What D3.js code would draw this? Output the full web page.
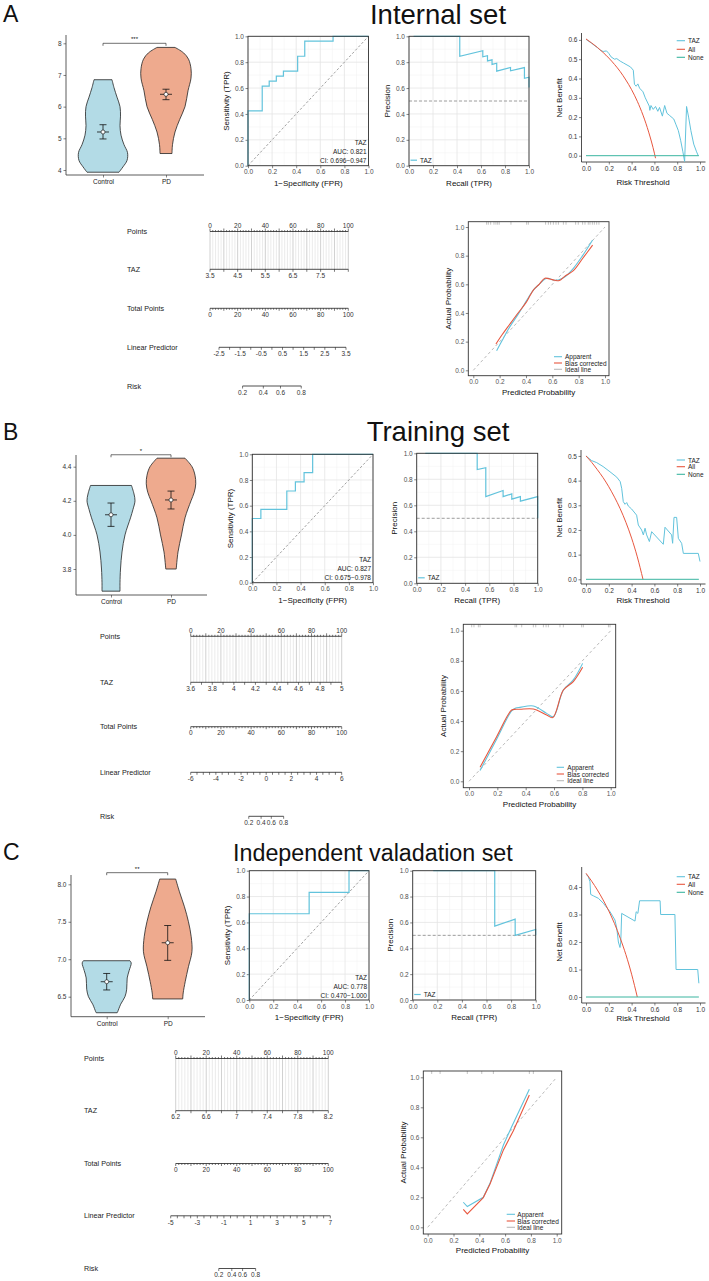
<!DOCTYPE html>
<html><head><meta charset="utf-8">
<script src="https://cdn.jsdelivr.net/npm/d3@7"></script>
<style>body{margin:0;background:#fff}</style>
</head><body><svg id="c" width="709" height="1281"></svg>
<script>
// ================= DATA =================
const groups = ["Control", "PD"];
// violin outlines: [TAZ value, relative half width]
const vioA_Control = [[3.93,0.64],[4.1,0.8],[4.3,0.96],[4.55,0.98],[4.8,0.84],[5.1,0.72],[5.4,0.68],[5.7,0.7],[6.0,0.68],[6.3,0.56],[6.6,0.44],[6.85,0.36]];
const vioA_PD = [[4.52,0.24],[4.8,0.26],[5.2,0.36],[5.6,0.55],[6.0,0.76],[6.5,0.88],[6.9,1.0],[7.2,1.0],[7.5,0.9],[7.7,0.7],[7.87,0.36]];
const vioB_Control = [[3.67,0.36],[3.72,0.36],[3.8,0.38],[3.9,0.44],[4.0,0.56],[4.1,0.78],[4.15,0.88],[4.2,0.96],[4.24,0.92],[4.29,0.82]];
const vioB_PD = [[3.8,0.21],[3.9,0.28],[4.0,0.42],[4.1,0.56],[4.2,0.8],[4.25,0.93],[4.3,0.99],[4.35,0.96],[4.4,0.84],[4.45,0.56]];
const vioC_Control = [[6.286,0.42],[6.3,0.44],[6.4,0.56],[6.5,0.73],[6.6,0.8],[6.75,0.82],[6.85,0.9],[6.95,0.98],[6.98,0.93]];
const vioC_PD = [[6.47,0.6],[6.55,0.62],[6.7,0.7],[6.9,0.83],[7.1,0.97],[7.3,0.94],[7.5,0.83],[7.7,0.67],[7.9,0.47],[8.07,0.32]];
// mean and error bars
const meanA = [5.20, 6.39], lowA = [4.98, 6.22], highA = [5.43, 6.55];
const meanB = [4.118, 4.205], lowB = [4.05, 4.152], highB = [4.187, 4.257];
const meanC = [6.70, 7.22], lowC = [6.59, 6.985], highC = [6.81, 7.45];
const sigA = "***", sigB = "*", sigC = "**";
const sigLevelA = 8.0, sigLevelB = 4.47, sigLevelC = 8.155;
const vioTicksA = [4,5,6,7,8], vioTicksB = [3.8,4.0,4.2,4.4], vioTicksC = [6.5,7.0,7.5,8.0];

// ROC (step corners)
const rocA_fpr = [0,0.118,0.176,0.235,0.294,0.412,0.471,0.706,1];
const rocA_tpr = [0,0.423,0.615,0.654,0.692,0.731,0.846,0.962,1];
const rocB_fpr = [0,0.071,0.286,0.357,0.429,0.5,1];
const rocB_tpr = [0,0.5,0.571,0.714,0.786,0.857,1];
const rocC_fpr = [0,0.5,0.833,1];
const rocC_tpr = [0,0.667,0.833,1];
const rocTextA = ["TAZ","AUC: 0.821","CI: 0.696\u22120.947"];
const rocTextB = ["TAZ","AUC: 0.827","CI: 0.675\u22120.978"];
const rocTextC = ["TAZ","AUC: 0.778","CI: 0.470\u22121.000"];

// PR curves
const prA_recall = [0.038,0.423,0.423,0.615,0.615,0.654,0.654,0.692,0.692,0.731,0.731,0.846,0.846,0.962,0.962,1,1];
const prA_prec   = [1,1,0.846,0.889,0.842,0.85,0.81,0.818,0.783,0.792,0.731,0.759,0.733,0.758,0.676,0.684,0.605];
const prB_recall = [0.071,0.5,0.5,0.571,0.571,0.714,0.714,0.786,0.786,0.857,0.857,1,1];
const prB_prec   = [1,1,0.875,0.889,0.667,0.714,0.667,0.688,0.647,0.667,0.632,0.667,0.5];
const prC_recall = [0.167,0.667,0.667,0.833,0.833,1,1];
const prC_prec   = [1,1,0.571,0.625,0.5,0.545,0.5];

// Decision curves
const dcaA_t   = [0,0.05,0.1,0.125,0.15,0.18,0.2,0.22,0.25,0.27,0.3,0.33,0.36,0.39,0.415,0.425,0.44,0.455,0.47,0.5,0.52,0.555,0.56,0.57,0.59,0.61,0.63,0.645,0.67,0.69,0.71,0.73,0.77,0.79,0.81,0.83,0.85,0.865,0.882,0.9,0.92,0.945,0.97,0.985];
const dcaA_taz = [0.603,0.582,0.56,0.547,0.54,0.543,0.53,0.512,0.5,0.503,0.49,0.48,0.47,0.46,0.443,0.37,0.36,0.372,0.35,0.331,0.3,0.257,0.235,0.26,0.24,0.255,0.23,0.25,0.205,0.26,0.22,0.21,0.19,0.16,0.13,0.08,0.02,-0.03,0.255,0.2,0.13,0.06,0.02,0.0];
const dcaA_allT = [0,0.05,0.1,0.15,0.2,0.25,0.3,0.35,0.4,0.45,0.5,0.55,0.6,0.61];
const dcaA_all  = [0.605,0.584,0.561,0.535,0.506,0.473,0.436,0.392,0.342,0.282,0.21,0.122,0.013,-0.013];
const dcaB_t   = [0,0.05,0.094,0.15,0.21,0.27,0.3,0.313,0.327,0.342,0.357,0.371,0.4,0.444,0.459,0.488,0.503,0.518,0.532,0.556,0.576,0.678,0.693,0.751,0.76,0.772,0.795,0.81,0.839,0.854,0.985,1.0];
const dcaB_taz = [0.5,0.481,0.473,0.457,0.436,0.414,0.396,0.369,0.315,0.304,0.311,0.297,0.285,0.26,0.22,0.2,0.18,0.207,0.18,0.153,0.193,0.142,0.211,0.18,0.146,0.251,0.251,0.166,0.146,0.105,0.105,0.072];
const dcaB_allT = [0,0.05,0.1,0.15,0.2,0.25,0.3,0.35,0.4,0.45,0.5];
const dcaB_all  = [0.5,0.474,0.444,0.412,0.375,0.333,0.286,0.231,0.167,0.091,0];
const dcaC_t   = [0,0.02,0.035,0.041,0.064,0.108,0.152,0.211,0.254,0.27,0.284,0.298,0.305,0.313,0.43,0.44,0.455,0.47,0.65,0.655,0.78,0.79,0.98,0.99];
const dcaC_taz = [0.446,0.438,0.419,0.373,0.368,0.359,0.341,0.31,0.28,0.25,0.2,0.18,0.2,0.304,0.276,0.31,0.304,0.35,0.35,0.3,0.3,0.1,0.1,0.05];
const dcaC_allT = [0,0.05,0.1,0.15,0.2,0.25,0.3,0.35,0.4,0.45];
const dcaC_all  = [0.45,0.421,0.389,0.353,0.313,0.267,0.214,0.154,0.083,0];
const dcaNoneT = [0, 0.99], dcaNone = [0, 0];
const dcaLegend = ["TAZ","All","None"];

// Calibration curves
const calA_appX = [0.177,0.22,0.278,0.34,0.392,0.42,0.456,0.5,0.544,0.57,0.607,0.645,0.696,0.76,0.83,0.906];
const calA_appY = [0.137,0.21,0.305,0.39,0.467,0.51,0.56,0.6,0.637,0.642,0.63,0.63,0.653,0.712,0.8,0.909];
const calA_bcX  = [0.172,0.22,0.278,0.34,0.4,0.43,0.456,0.5,0.544,0.582,0.62,0.653,0.7,0.76,0.83,0.906];
const calA_bcY  = [0.184,0.25,0.323,0.4,0.472,0.52,0.56,0.6,0.642,0.637,0.628,0.626,0.66,0.695,0.78,0.874];
const calA_rug  = [0.101,0.114,0.132,0.157,0.172,0.185,0.197,0.286,0.405,0.418,0.549,0.57,0.587,0.608,0.628,0.646,0.684,0.704,0.777,0.797,0.83,0.848,0.873,0.886,0.904,0.919,0.937,0.954];
const calB_appX = [0.078,0.195,0.301,0.33,0.36,0.454,0.548,0.595,0.666,0.736,0.802];
const calB_appY = [0.071,0.279,0.467,0.487,0.491,0.5,0.451,0.429,0.606,0.673,0.783];
const calB_bcX  = [0.078,0.195,0.301,0.33,0.36,0.454,0.548,0.591,0.666,0.736,0.802];
const calB_bcY  = [0.093,0.296,0.473,0.478,0.478,0.48,0.44,0.423,0.606,0.662,0.757];
const calB_rug  = [0.019,0.035,0.066,0.078,0.325,0.336,0.372,0.454,0.471,0.525,0.544,0.56,0.642,0.666,0.795,0.807,0.984,0.995];
const calC_appX = [0.276,0.307,0.431,0.483,0.587,0.651,0.788];
const calC_appY = [0.167,0.138,0.2,0.293,0.549,0.671,0.92];
const calC_bcX  = [0.276,0.307,0.431,0.483,0.587,0.664,0.788];
const calC_bcY  = [0.12,0.089,0.198,0.289,0.516,0.644,0.882];
const calC_rug  = [0.031,0.096,0.307,0.419,0.509,0.788,0.819];
const calLegend = ["Apparent","Bias corrected","Ideal line"];

// Nomogram tick labels
const nomoRows = ["Points","TAZ","Total Points","Linear Predictor","Risk"];
const nomoPointLabels = [0,20,40,60,80,100];
const nomoRiskLabels = [0.2,0.4,0.6,0.8];
const nomoA_taz = [3.5,4.5,5.5,6.5,7.5];
const nomoA_lp  = [-2.5,-1.5,-0.5,0.5,1.5,2.5,3.5];
const nomoB_taz = [3.6,3.8,4,4.2,4.4,4.6,4.8,5];
const nomoB_lp  = [-6,-4,-2,0,2,4,6];
const nomoC_taz = [6.2,6.6,7,7.4,7.8,8.2];
const nomoC_lp  = [-5,-3,-1,1,3,5,7];

const titles = ["Internal set","Training set","Independent valadation set"];
const letters = ["A","B","C"];

// ================= STYLE =================
const FONT = "'Liberation Sans', Arial, Helvetica, sans-serif";
const COL_TAZ = "#62c3dc", COL_ALL = "#e8573f", COL_NONE = "#3ab5a0";
const FILLS = ["#b3dbe6", "#eeaa8e"];
const svg = d3.select("#c").attr("font-family", FONT);
const fmt1 = d3.format(".1f");

function txt(g, x, y, s, o = {}) {
  const t = g.append("text").attr("x", x).attr("y", y).text(s)
    .attr("font-size", o.size || 7).attr("fill", o.fill || "#111")
    .attr("text-anchor", o.anchor || "start")
    .attr("dominant-baseline", o.base || "central");
  if (o.rot) t.attr("transform", `rotate(-90,${x},${y})`);
  return t;
}
function hline(g, x1, x2, y, col = "#222", w = 0.8) {
  return g.append("line").attr("x1", x1).attr("x2", x2).attr("y1", y).attr("y2", y).attr("stroke", col).attr("stroke-width", w);
}
function vline(g, x, y1, y2, col = "#222", w = 0.8) {
  return g.append("line").attr("x1", x).attr("x2", x).attr("y1", y1).attr("y2", y2).attr("stroke", col).attr("stroke-width", w);
}
function styleAxis(sel, size = 6.5, col = "#4d4d4d") {
  sel.attr("font-size", size).attr("font-family", FONT);
  sel.select(".domain").remove();
  sel.selectAll(".tick line").attr("stroke", "#333").attr("stroke-width", 0.6);
  sel.selectAll(".tick text").attr("fill", col);
}
const zip = (a, b) => a.map((d, i) => [d, b[i]]);

// ================= PANELS =================
function violinPanel(c, data, mean, low, high, ticks, sig, sigLevel) {
  const g = svg.append("g");
  const y = d3.scaleLinear().domain(c.yDomain).range(c.yRange);
  const x = d3.scalePoint().domain(groups).range(c.centers);
  const maxHW = 25;
  groups.forEach((grp, i) => {
    const area = d3.area().curve(d3.curveCatmullRom)
      .y(d => y(d[0])).x0(d => x(grp) - d[1] * maxHW).x1(d => x(grp) + d[1] * maxHW);
    g.append("path").attr("d", area(data[i])).attr("fill", FILLS[i]).attr("stroke", "#222").attr("stroke-width", 0.8);
    const cx = x(grp);
    vline(g, cx, y(low[i]), y(high[i]), "#111", 0.8);
    hline(g, cx - 3.5, cx + 3.5, y(low[i]), "#111", 0.8);
    hline(g, cx - 3.5, cx + 3.5, y(high[i]), "#111", 0.8);
    hline(g, cx - 6, cx + 6, y(mean[i]), "#111", 0.8);
    g.append("circle").attr("cx", cx).attr("cy", y(mean[i])).attr("r", 2).attr("fill", "#fff").attr("stroke", "#111").attr("stroke-width", 0.6);
  });
  const sy = y(sigLevel);
  g.append("path").attr("d", `M${x("Control")},${sy + 2.5}V${sy}H${x("PD")}V${sy + 2.5}`).attr("fill", "none").attr("stroke", "#333").attr("stroke-width", 0.7);
  txt(g, (x("Control") + x("PD")) / 2, sy - 2, sig, { size: 6, anchor: "middle", base: "auto" });
  const ya = g.append("g").attr("transform", `translate(${c.xLeft},0)`)
    .call(d3.axisLeft(y).tickValues(ticks).tickSize(2.5).tickPadding(2).tickFormat(c.fmt));
  styleAxis(ya, 6.5, "#333");
  vline(g, c.xLeft, c.yTop, c.xAxisY, "#333", 0.8);
  const xa = g.append("g").attr("transform", `translate(0,${c.xAxisY})`)
    .call(d3.axisBottom(x).tickSize(2.5).tickPadding(2));
  styleAxis(xa, 6.5, "#222");
  hline(g, c.xLeft, c.xRight, c.xAxisY, "#333", 0.8);
}

function framePanel(c) {
  const g = svg.append("g");
  const xs = d3.scaleLinear().domain([0, 1]).range([c.x0, c.x1]);
  const ys = d3.scaleLinear().domain([0, 1]).range([c.yBot, c.yTop]);
  const minor = [0.1, 0.3, 0.5, 0.7, 0.9], major = [0, 0.2, 0.4, 0.6, 0.8, 1];
  minor.forEach(v => { vline(g, xs(v), c.yTop, c.yBot, "#f0f0f0", 0.5); hline(g, c.x0, c.x1, ys(v), "#f0f0f0", 0.5); });
  major.forEach(v => { vline(g, xs(v), c.yTop, c.yBot, "#e4e4e4", 0.8); hline(g, c.x0, c.x1, ys(v), "#e4e4e4", 0.8); });
  const xa = g.append("g").attr("transform", `translate(0,${c.yBot})`)
    .call(d3.axisBottom(xs).tickValues(major).tickFormat(fmt1).tickSize(2.5).tickPadding(1.5));
  styleAxis(xa);
  const ya = g.append("g").attr("transform", `translate(${c.x0},0)`)
    .call(d3.axisLeft(ys).tickValues(major).tickFormat(fmt1).tickSize(2.5).tickPadding(1.5));
  styleAxis(ya);
  txt(g, (c.x0 + c.x1) / 2, c.yBot + 17.5, c.xlab, { size: 8, anchor: "middle" });
  txt(g, c.x0 - 22, (c.yTop + c.yBot) / 2, c.ylab, { size: 8, anchor: "middle", rot: true });
  return { g, xs, ys, border: () => g.append("rect").attr("x", c.x0).attr("y", c.yTop).attr("width", c.x1 - c.x0).attr("height", c.yBot - c.yTop).attr("fill", "none").attr("stroke", "#333").attr("stroke-width", 0.9) };
}

function rocPanel(c, fpr, tpr, lines) {
  const p = framePanel(Object.assign({ xlab: "1\u2212Specificity (FPR)", ylab: "Sensitivity (TPR)" }, c));
  p.g.append("line").attr("x1", p.xs(0)).attr("y1", p.ys(0)).attr("x2", p.xs(1)).attr("y2", p.ys(1))
    .attr("stroke", "#777").attr("stroke-width", 0.7).attr("stroke-dasharray", "2.5,2");
  p.g.append("path").attr("d", d3.line().curve(d3.curveStepBefore).x(d => p.xs(d[0])).y(d => p.ys(d[1]))(zip(fpr, tpr)))
    .attr("fill", "none").attr("stroke", COL_TAZ).attr("stroke-width", 1.2);
  p.border();
  lines.forEach((s, i) => txt(p.g, c.x1 - 2, c.yBot - 23 + i * 9, s, { size: 6.5, anchor: "end", fill: "#222" }));
}

function prPanel(c, rec, prec) {
  const p = framePanel(Object.assign({ xlab: "Recall (TPR)", ylab: "Precision" }, c));
  hline(p.g, c.x0, c.x1, p.ys(0.5), "#888", 0.8).attr("stroke-dasharray", "3,2");
  p.g.append("path").attr("d", d3.line().x(d => p.xs(d[0])).y(d => p.ys(d[1]))(zip(rec, prec)))
    .attr("fill", "none").attr("stroke", COL_TAZ).attr("stroke-width", 1.2);
  p.border();
  const ly = c.yBot - 5.5;
  hline(p.g, c.x0 + 1.5, c.x0 + 8, ly, COL_TAZ, 1.2);
  txt(p.g, c.x0 + 11, ly, "TAZ", { size: 6.5, fill: "#222" });
}

function dcaPanel(c, tT, tV, aT, aV) {
  const g = svg.append("g");
  const xs = d3.scaleLinear().domain([0, 1]).range([c.x0, c.x1]);
  const ys = d3.scaleLinear().domain([0, 1]).range([c.y0, c.y0 - c.yPer]);
  vline(g, c.axisX, c.yTopLine, c.axisY, "#222", 0.8);
  hline(g, c.axisX, c.x1 + 5.5, c.axisY, "#222", 0.8);
  const ya = g.append("g").attr("transform", `translate(${c.axisX},0)`)
    .call(d3.axisLeft(ys).tickValues(c.yTicks).tickFormat(fmt1).tickSize(2.5).tickPadding(1.5));
  styleAxis(ya, 6.5, "#333");
  const xa = g.append("g").attr("transform", `translate(0,${c.axisY})`)
    .call(d3.axisBottom(xs).tickValues([0, 0.2, 0.4, 0.6, 0.8, 1]).tickFormat(fmt1).tickSize(2.5).tickPadding(1.5));
  styleAxis(xa, 6.5, "#333");
  const line = d3.line().x(d => xs(d[0])).y(d => ys(d[1]));
  g.append("path").attr("d", line(zip(tT, tV))).attr("fill", "none").attr("stroke", COL_TAZ).attr("stroke-width", 1);
  g.append("path").attr("d", d3.line().curve(d3.curveMonotoneX).x(d => xs(d[0])).y(d => ys(d[1]))(zip(aT, aV))).attr("fill", "none").attr("stroke", COL_ALL).attr("stroke-width", 1);
  g.append("path").attr("d", line(zip(dcaNoneT, dcaNone))).attr("fill", "none").attr("stroke", COL_NONE).attr("stroke-width", 1);
  txt(g, (c.x0 + c.x1) / 2, c.xlabY, "Risk Threshold", { size: 8, anchor: "middle" });
  txt(g, c.ylabX, c.y0 - c.yPer * c.yTicks[c.yTicks.length - 1] / 2, "Net Benefit", { size: 8, anchor: "middle", rot: true });
  const cols = [COL_TAZ, COL_ALL, COL_NONE];
  dcaLegend.forEach((s, i) => {
    hline(g, 676.7, 685, c.legY[i], cols[i], 1.1);
    txt(g, 688, c.legY[i], s, { size: 6.5, fill: "#222" });
  });
}

function calPanel(c, ax, ay, bx, by, rug) {
  const g = svg.append("g");
  const xs = d3.scaleLinear().domain([0, 1]).range([c.x0, c.x1]);
  const ys = d3.scaleLinear().domain([0, 1]).range([c.y0, c.y1]);
  const [bx0, by0, bx1, by1] = c.box;
  const ticks = [0, 0.2, 0.4, 0.6, 0.8, 1];
  const xa = g.append("g").attr("transform", `translate(0,${by1})`)
    .call(d3.axisBottom(xs).tickValues(ticks).tickFormat(fmt1).tickSize(2.5).tickPadding(1.5));
  styleAxis(xa, 6.5, "#555");
  const ya = g.append("g").attr("transform", `translate(${bx0},0)`)
    .call(d3.axisLeft(ys).tickValues(ticks).tickFormat(fmt1).tickSize(2.5).tickPadding(1.5));
  styleAxis(ya, 6.5, "#555");
  g.append("line").attr("x1", xs(0)).attr("y1", ys(0)).attr("x2", xs(1)).attr("y2", ys(1))
    .attr("stroke", "#aaa").attr("stroke-width", 0.8).attr("stroke-dasharray", "3,2.5");
  rug.forEach(v => vline(g, xs(v), by0, by0 + 3, "#888", 0.5));
  const line = d3.line().curve(c.curve).x(d => xs(d[0])).y(d => ys(d[1]));
  g.append("path").attr("d", line(zip(ax, ay))).attr("fill", "none").attr("stroke", COL_TAZ).attr("stroke-width", 1.1);
  g.append("path").attr("d", line(zip(bx, by))).attr("fill", "none").attr("stroke", COL_ALL).attr("stroke-width", 1.1);
  g.append("rect").attr("x", bx0).attr("y", by0).attr("width", bx1 - bx0).attr("height", by1 - by0)
    .attr("fill", "none").attr("stroke", "#333").attr("stroke-width", 0.9);
  const cols = [COL_TAZ, COL_ALL, "#bbb"];
  calLegend.forEach((s, i) => {
    hline(g, c.legX[0], c.legX[1], c.legY[i], cols[i], 1.1);
    txt(g, c.legX[2], c.legY[i], s, { size: 6.5, fill: "#222" });
  });
  txt(g, (bx0 + bx1) / 2, by1 + 16.8, "Predicted Probability", { size: 8, anchor: "middle" });
  txt(g, bx0 - 20, (by0 + by1) / 2, "Actual Probability", { size: 8, anchor: "middle", rot: true });
}

function nomoPanel(c, tazLabels, lpLabels) {
  const g = svg.append("g");
  const pts = d3.scaleLinear().domain([0, 100]).range([c.px0, c.px1]);
  const taz = d3.scaleLinear().domain(c.tazDom).range([c.px0, c.px1]);
  const lp = d3.scaleLinear().domain(c.lpDom).range([c.lx0, c.lx1]);
  const [yP, yT, yTot, yLP, yR] = c.rowY;
  nomoRows.forEach((n, i) => txt(g, c.labelX, c.rowY[i], n, { size: 7.2, fill: "#222" }));
  const fine = d3.range(0, 101, 2);
  fine.forEach(v => vline(g, pts(v), yP, yT, v % 10 === 0 ? "#bdbdbd" : "#e2e2e2", 0.7));
  const LS = 6.5, LC = "#333";
  // Points
  hline(g, c.px0, c.px1, yP, "#222", 0.8);
  fine.forEach(v => vline(g, pts(v), yP, yP - (v % 10 === 0 ? 3 : 1.5), "#222", 0.6));
  nomoPointLabels.forEach(v => txt(g, pts(v), yP - 6, v, { size: LS, anchor: "middle", fill: LC }));
  // TAZ
  hline(g, c.px0, c.px1, yT, "#222", 0.8);
  d3.range(0, Math.round((c.tazDom[1] - c.tazDom[0]) / c.tazStep) + 1).map(k => c.tazDom[0] + k * c.tazStep)
    .forEach(v => vline(g, taz(v), yT, yT + 2.5, "#222", 0.6));
  tazLabels.forEach(v => txt(g, taz(v), yT + 6.2, v, { size: LS, anchor: "middle", fill: LC }));
  // Total points
  hline(g, c.px0, c.px1, yTot, "#222", 0.8);
  fine.forEach(v => vline(g, pts(v), yTot, yTot + (v % 10 === 0 ? 2.5 : 1.5), "#222", 0.6));
  nomoPointLabels.forEach(v => txt(g, pts(v), yTot + 6.2, v, { size: LS, anchor: "middle", fill: LC }));
  // Linear predictor
  hline(g, c.lx0, c.lx1, yLP, "#222", 0.8);
  d3.range(0, Math.round((c.lpDom[1] - c.lpDom[0]) / c.lpStep) + 1).map(k => c.lpDom[0] + k * c.lpStep)
    .forEach(v => vline(g, lp(v), yLP, yLP + 2.5, "#222", 0.6));
  lpLabels.forEach(v => txt(g, lp(v), yLP + 6.2, v, { size: LS, anchor: "middle", fill: LC }));
  // Risk (logit of risk on the linear predictor scale)
  const logit = p => Math.log(p / (1 - p));
  const rx = nomoRiskLabels.map(p => lp(logit(p)));
  hline(g, rx[0], rx[rx.length - 1], yR, "#222", 0.8);
  rx.forEach((x, i) => { vline(g, x, yR, yR + 2.5, "#222", 0.6); txt(g, x, yR + 6.2, nomoRiskLabels[i], { size: LS, anchor: "middle", fill: LC }); });
}

// ================= LAYOUT =================
const head = svg.append("g");
[[3, 21.7], [3, 440], [3, 860]].forEach((p, i) => txt(head, p[0], p[1], letters[i], { size: 23, base: "auto", fill: "#111" }));
txt(head, 438, 23.5, titles[0], { size: 27.5, anchor: "middle", base: "auto", fill: "#111" });
txt(head, 438, 441, titles[1], { size: 27.5, anchor: "middle", base: "auto", fill: "#111" });
txt(head, 233, 860.5, titles[2], { size: 23.3, base: "auto", fill: "#111" });

// ---- Row A
violinPanel({ yDomain: [4, 8], yRange: [170, 43.3], yTop: 35, xAxisY: 175, xLeft: 66, xRight: 204, centers: [103, 166], fmt: d3.format("d") },
  [vioA_Control, vioA_PD], meanA, lowA, highA, vioTicksA, sigA, sigLevelA);
rocPanel({ x0: 248, x1: 368.5, yTop: 36.3, yBot: 165.7 }, rocA_fpr, rocA_tpr, rocTextA);
prPanel({ x0: 409, x1: 529, yTop: 36.3, yBot: 165.7 }, prA_recall, prA_prec);
dcaPanel({ x0: 586, x1: 700, y0: 155.7, yPer: 193, axisX: 581.5, axisY: 162, yTopLine: 33, yTicks: [0, 0.1, 0.2, 0.3, 0.4, 0.5, 0.6], ylabX: 560, xlabY: 182, legY: [40.7, 49.3, 57.3] },
  dcaA_t, dcaA_taz, dcaA_allT, dcaA_all);
nomoPanel({ labelX: 127, rowY: [231.5, 269.3, 308.3, 347.3, 386], px0: 210, px1: 348.3, tazDom: [3.5, 8.5], tazStep: 0.5, lpDom: [-2.5, 3.5], lx0: 219, lx1: 346, lpStep: 0.5 },
  nomoA_taz, nomoA_lp);
calPanel({ x0: 473.3, x1: 605, y0: 370.3, y1: 227, box: [468.3, 221.7, 609, 375.7], legX: [554, 562, 565], legY: [356.7, 363, 369.3], curve: d3.curveCatmullRom },
  calA_appX, calA_appY, calA_bcX, calA_bcY, calA_rug);

// ---- Row B
violinPanel({ yDomain: [3.8, 4.4], yRange: [569, 466.7], yTop: 455, xAxisY: 595, xLeft: 76, xRight: 207, centers: [111, 171], fmt: fmt1 },
  [vioB_Control, vioB_PD], meanB, lowB, highB, vioTicksB, sigB, sigLevelB);
rocPanel({ x0: 252.3, x1: 373, yTop: 454.3, yBot: 582.7 }, rocB_fpr, rocB_tpr, rocTextB);
prPanel({ x0: 416.7, x1: 537.7, yTop: 453.3, yBot: 583.3 }, prB_recall, prB_prec);
dcaPanel({ x0: 586, x1: 700, y0: 579.3, yPer: 246.7, axisX: 581, axisY: 584, yTopLine: 450, yTicks: [0, 0.1, 0.2, 0.3, 0.4, 0.5], ylabX: 559.5, xlabY: 600, legY: [460, 466.7, 474.3] },
  dcaB_t, dcaB_taz, dcaB_allT, dcaB_all);
nomoPanel({ labelX: 100, rowY: [636.3, 682.3, 726.7, 772.3, 816.3], px0: 190.7, px1: 341.7, tazDom: [3.6, 5], tazStep: 0.1, lpDom: [-6, 6], lx0: 190.7, lx1: 341.7, lpStep: 0.5 },
  nomoB_taz, nomoB_lp);
calPanel({ x0: 469, x1: 610.7, y0: 781.3, y1: 630.7, box: [463.3, 624.3, 615.7, 787.7], legX: [556.7, 564, 567.3], legY: [767.3, 774, 780.7], curve: d3.curveCatmullRom },
  calB_appX, calB_appY, calB_bcX, calB_bcY, calB_rug);

// ---- Row C
violinPanel({ yDomain: [6.5, 8.0], yRange: [996.7, 884.3], yTop: 875, xAxisY: 1016.7, xLeft: 71, xRight: 205, centers: [106.7, 167.7], fmt: fmt1 },
  [vioC_Control, vioC_PD], meanC, lowC, highC, vioTicksC, sigC, sigLevelC);
rocPanel({ x0: 249.3, x1: 369, yTop: 870.7, yBot: 1000 }, rocC_fpr, rocC_tpr, rocTextC);
prPanel({ x0: 412.7, x1: 535.7, yTop: 870.7, yBot: 1000 }, prC_recall, prC_prec);
dcaPanel({ x0: 586, x1: 700, y0: 997, yPer: 275, axisX: 581.7, axisY: 1003, yTopLine: 867, yTicks: [0, 0.1, 0.2, 0.3, 0.4], ylabX: 559.5, xlabY: 1018, legY: [876.7, 884.3, 892.3] },
  dcaC_t, dcaC_taz, dcaC_allT, dcaC_all);
nomoPanel({ labelX: 84, rowY: [1058.5, 1110.7, 1163.5, 1215.8, 1268.5], px0: 175.7, px1: 328.3, tazDom: [6.2, 8.2], tazStep: 0.2, lpDom: [-5, 7], lx0: 170.7, lx1: 330.3, lpStep: 0.5 },
  nomoC_taz, nomoC_lp);
calPanel({ x0: 427.7, x1: 556.7, y0: 1227.3, y1: 1077.3, box: [423.3, 1071, 561.7, 1234], legX: [506.7, 515, 517.3], legY: [1214.3, 1221, 1227.3], curve: d3.curveLinear },
  calC_appX, calC_appY, calC_bcX, calC_bcY, calC_rug);
</script></body></html>
